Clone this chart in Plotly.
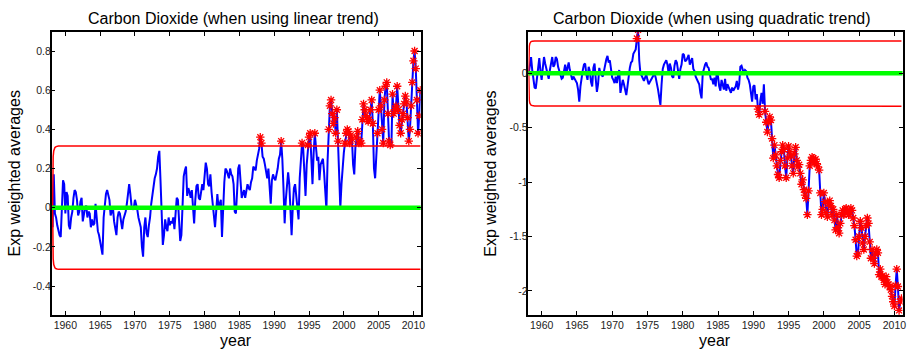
import numpy as np
import plotly.graph_objects as go

# ---------------- data ----------------
# time grid: every two months, 1958+1/6 ... 2011.0 (53 rows of 6 values)
years_grid = 1958 + np.arange(1, 6 * 53 + 1) / 6.0

# EWMA of residuals, linear trend (row = year Y, values at Y+1/6 ... Y+1)
lin_ewma = [
    -0.10, 0.17, -0.03, -0.05, -0.09, -0.12,   # 1958
    -0.14, -0.15, 0.00, 0.14, 0.12, -0.03,     # 1959
    0.08, 0.06, -0.09, -0.11, -0.05, -0.02,    # 1960
    0.05, 0.09, 0.08, 0.04, -0.04, -0.02,      # 1961
    0.03, 0.05, -0.07, -0.03, 0.00, 0.01,      # 1962
    -0.05, -0.02, -0.03, -0.10, -0.06, -0.09,  # 1963
    -0.08, 0.02, -0.04, -0.12, -0.14, -0.18,   # 1964
    -0.22, -0.24, -0.05, 0.03, 0.07, 0.09,     # 1965
    0.07, 0.04, -0.04, -0.02, 0.00, -0.07,     # 1966
    -0.12, -0.14, -0.05, -0.02, -0.03, -0.08,  # 1967
    -0.11, -0.06, -0.04, -0.02, 0.02, 0.06,    # 1968
    0.12, 0.07, 0.01, -0.01, 0.00, 0.04,       # 1969
    0.02, -0.01, -0.05, -0.07, -0.10, -0.20,   # 1970
    -0.25, -0.10, -0.05, -0.13, -0.15, -0.09,  # 1971
    -0.05, 0.02, 0.06, 0.12, 0.15, 0.17,       # 1972
    0.20, 0.26, 0.29, 0.14, -0.02, -0.19,      # 1973
    -0.14, -0.06, -0.10, -0.12, -0.05, -0.09,  # 1974
    -0.07, -0.08, -0.05, -0.11, -0.03, 0.05,   # 1975
    0.04, -0.10, -0.17, -0.14, -0.02, 0.16,    # 1976
    0.19, 0.21, 0.06, 0.10, 0.08, 0.05,        # 1977
    0.09, 0.00, -0.08, 0.04, 0.11, 0.12,       # 1978
    0.05, 0.04, 0.08, 0.12, 0.09, 0.16,        # 1979
    0.23, 0.20, 0.12, 0.11, 0.17, 0.08,        # 1980
    0.03, -0.03, -0.10, -0.02, 0.07, 0.00,     # 1981
    0.02, 0.04, -0.15, 0.02, 0.13, 0.20,       # 1982
    0.19, 0.17, 0.15, 0.20, 0.17, 0.16,        # 1983
    0.12, -0.02, -0.03, 0.08, 0.20, 0.22,      # 1984
    0.15, 0.05, 0.07, 0.09, 0.05, 0.08,        # 1985
    0.12, 0.10, 0.09, 0.13, 0.15, 0.21,        # 1986
    0.20, 0.19, 0.24, 0.27, 0.30, 0.36,        # 1987
    0.33, 0.26, 0.25, 0.22, 0.17, 0.15,        # 1988
    0.20, 0.08, 0.02, 0.14, 0.17, 0.15,        # 1989
    0.14, 0.17, 0.20, 0.25, 0.27, 0.34,        # 1990
    0.25, 0.10, -0.08, 0.04, 0.13, 0.18,       # 1991
    0.12, -0.05, -0.14, 0.00, 0.10, 0.12,      # 1992
    0.05, 0.02, -0.06, 0.15, 0.28, 0.33,       # 1993
    0.30, 0.14, 0.06, 0.22, 0.32, 0.36,        # 1994
    0.38, 0.26, 0.12, 0.28, 0.38, 0.31,        # 1995
    0.24, 0.26, 0.14, 0.22, 0.24, 0.25,        # 1996
    0.18, 0.09, -0.01, 0.24, 0.40, 0.52,       # 1997
    0.55, 0.48, 0.43, 0.46, 0.38, 0.50,        # 1998
    0.34, 0.20, 0.00, 0.12, 0.22, 0.28,        # 1999
    0.33, 0.38, 0.40, 0.39, 0.33, 0.37,        # 2000
    0.35, 0.22, 0.17, 0.31, 0.36, 0.39,        # 2001
    0.33, 0.34, 0.33, 0.45, 0.53, 0.50,        # 2002
    0.47, 0.46, 0.44, 0.45, 0.50, 0.55,        # 2003
    0.43, 0.20, 0.15, 0.25, 0.38, 0.50,        # 2004
    0.60, 0.52, 0.40, 0.33, 0.55, 0.62,        # 2005
    0.64, 0.48, 0.34, 0.32, 0.31, 0.58,        # 2006
    0.48, 0.50, 0.52, 0.62, 0.50, 0.42,        # 2007
    0.38, 0.45, 0.48, 0.53, 0.57, 0.54,        # 2008
    0.46, 0.34, 0.40, 0.52, 0.64, 0.75,        # 2009
    0.80, 0.71, 0.55, 0.38, 0.47, 0.60,        # 2010
]

# EWMA of residuals, quadratic trend
quad_ewma = [
    0.00, 0.06, 0.15, 0.03, -0.08, -0.13,      # 1958
    -0.14, -0.04, 0.08, 0.14, 0.02, -0.06,     # 1959
    0.05, 0.15, 0.09, 0.04, -0.03, -0.05,      # 1960
    0.03, 0.10, 0.15, 0.06, 0.08, 0.15,        # 1961
    0.13, 0.06, 0.03, 0.00, -0.05, -0.04,      # 1962
    0.02, 0.08, 0.00, 0.05, 0.10, 0.03,        # 1963
    -0.02, -0.06, -0.03, -0.05, -0.07, -0.09,  # 1964
    -0.15, -0.26, -0.12, -0.02, 0.03, 0.08,    # 1965
    0.09, -0.01, -0.06, 0.06, 0.02, -0.08,     # 1966
    -0.12, 0.05, 0.09, -0.05, -0.17, -0.10,    # 1967
    0.05, 0.00, -0.02, -0.03, 0.02, 0.10,      # 1968
    0.13, 0.16, 0.10, 0.12, 0.05, -0.04,       # 1969
    -0.06, -0.09, -0.03, -0.09, -0.02, 0.03,   # 1970
    -0.18, -0.10, -0.06, -0.10, -0.16, -0.20,  # 1971
    -0.12, -0.02, 0.05, 0.10, 0.11, 0.18,      # 1972
    0.20, 0.22, 0.32, 0.40, 0.12, 0.00,        # 1973
    -0.02, -0.05, -0.07, -0.04, -0.01, -0.06,  # 1974
    -0.10, -0.08, -0.05, -0.04, -0.02, 0.00,   # 1975
    -0.04, -0.12, -0.15, -0.22, -0.29, -0.10,  # 1976
    0.04, 0.08, 0.10, 0.12, 0.08, 0.00,        # 1977
    0.09, 0.05, -0.03, -0.04, 0.07, 0.12,      # 1978
    0.10, 0.00, -0.05, 0.04, 0.08, 0.18,       # 1979
    0.17, 0.11, 0.12, 0.14, 0.17, 0.08,        # 1980
    0.12, 0.14, 0.04, 0.02, -0.03, -0.06,      # 1981
    -0.08, -0.10, -0.18, -0.23, 0.00, 0.05,    # 1982
    0.08, 0.10, 0.06, 0.05, -0.02, -0.06,      # 1983
    -0.05, -0.10, -0.04, -0.12, 0.02, -0.03,   # 1984
    -0.12, -0.16, -0.06, -0.10, -0.15, -0.05,  # 1985
    -0.16, -0.10, -0.13, -0.15, -0.18, -0.13,  # 1986
    -0.16, -0.14, -0.12, -0.07, -0.15, -0.10,  # 1987
    0.06, 0.07, 0.04, 0.00, 0.03, 0.02,        # 1988
    -0.04, -0.06, -0.10, -0.17, -0.26, -0.12,  # 1989
    -0.11, -0.24, -0.19, -0.33, -0.38, -0.25,  # 1990
    -0.18, -0.28, -0.10, -0.35, -0.45, -0.54,  # 1991
    -0.45, -0.40, -0.43, -0.60, -0.78, -0.66,  # 1992
    -0.75, -0.85, -0.93, -0.96, -0.80, -0.72,  # 1993
    -0.66, -0.70, -0.85, -0.96, -0.78, -0.67,  # 1994
    -0.72, -0.76, -0.85, -0.92, -0.74, -0.68,  # 1995
    -0.80, -0.86, -0.84, -0.92, -1.02, -0.98,  # 1996
    -1.07, -1.12, -1.15, -1.30, -1.08, -0.85,  # 1997
    -0.80, -0.77, -0.78, -0.82, -0.79, -0.83,  # 1998
    -0.86, -0.89, -1.10, -1.30, -1.25, -1.10,  # 1999
    -1.18, -1.28, -1.32, -1.20, -1.17, -1.22,  # 2000
    -1.30, -1.25, -1.35, -1.44, -1.30, -1.42,  # 2001
    -1.47, -1.38, -1.30, -1.26, -1.30, -1.25,  # 2002
    -1.24, -1.28, -1.30, -1.27, -1.24, -1.26,  # 2003
    -1.33, -1.40, -1.53, -1.68, -1.66, -1.50,  # 2004
    -1.36, -1.42, -1.56, -1.62, -1.50, -1.40,  # 2005
    -1.33, -1.38, -1.55, -1.70, -1.62, -1.70,  # 2006
    -1.75, -1.66, -1.62, -1.65, -1.85, -1.80,  # 2007
    -1.87, -1.86, -1.90, -1.94, -1.87, -1.92,  # 2008
    -1.94, -1.96, -1.99, -2.05, -2.10, -2.14,  # 2009
    -1.95, -1.80, -1.96, -2.18, -2.10, -2.07,  # 2010
]

# control limits (start narrow, settle quickly)
limit_years = [1958.17, 1958.2, 1958.25, 1958.33, 1958.42, 1958.5, 1958.67, 1958.83, 1959.0, 2011.0]
lin_ucl = [0.0, 0.20, 0.26, 0.29, 0.30, 0.307, 0.312, 0.314, 0.315, 0.315]
lin_lcl = [0.0, -0.20, -0.26, -0.29, -0.30, -0.307, -0.312, -0.314, -0.315, -0.315]
quad_ucl = [0.0, 0.19, 0.25, 0.275, 0.285, 0.292, 0.296, 0.298, 0.298, 0.298]
quad_lcl = [0.0, -0.19, -0.25, -0.275, -0.285, -0.292, -0.296, -0.298, -0.300, -0.302]

center_years = [1958.0, 2011.5]
center_value = [0.0, 0.0]

x_tick_vals = [1960, 1965, 1970, 1975, 1980, 1985, 1990, 1995, 2000, 2005, 2010]
x_tick_text = ["1960", "1965", "1970", "1975", "1980", "1985", "1990", "1995", "2000", "2005", "2010"]
lin_y_ticks = [-0.4, -0.2, 0, 0.2, 0.4, 0.6, 0.8]
lin_y_text = ["-0.4", "-0.2", "0", "0.2", "0.4", "0.6", "0.8"]
quad_y_ticks = [-2, -1.5, -1, -0.5, 0]
quad_y_text = ["-2", "-1.5", "-1", "-0.5", "0"]

titles = ["Carbon Dioxide (when using linear trend)", "Carbon Dioxide (when using quadratic trend)"]

# ---------------- figure ----------------
W, H = 909, 349
FONT = "Liberation Sans, Arial, sans-serif"

fig = go.Figure()


def add_panel(vals, ucl, lcl, xa, ya):
    v = np.array(vals)
    fig.add_trace(go.Scatter(x=years_grid, y=v, mode="lines", xaxis=xa, yaxis=ya,
                             line=dict(color="#0000ff", width=2), showlegend=False))
    fig.add_trace(go.Scatter(x=limit_years, y=ucl, mode="lines", xaxis=xa, yaxis=ya,
                             line=dict(color="#ff0000", width=1.5), showlegend=False))
    fig.add_trace(go.Scatter(x=limit_years, y=lcl, mode="lines", xaxis=xa, yaxis=ya,
                             line=dict(color="#ff0000", width=1.5), showlegend=False))
    fig.add_trace(go.Scatter(x=center_years, y=center_value, mode="lines", xaxis=xa, yaxis=ya,
                             line=dict(color="#00ff00", width=4.5), showlegend=False))
    out = (v > ucl[-1]) | (v < lcl[-1])
    fig.add_trace(go.Scatter(x=years_grid[out], y=v[out], mode="markers", xaxis=xa, yaxis=ya,
                             marker=dict(symbol="asterisk-open", size=7, color="#ff0000",
                                         line=dict(color="#ff0000", width=1.3)),
                             showlegend=False))


add_panel(lin_ewma, lin_ucl, lin_lcl, "x", "y")
add_panel(quad_ewma, quad_ucl, quad_lcl, "x2", "y2")

ydom = [34 / H, 317 / H]
axis_common = dict(showline=True, linecolor="black", linewidth=1.5, mirror="ticks",
                   ticks="inside", ticklen=4, tickcolor="black", tickwidth=1,
                   showgrid=False, zeroline=False,
                   tickfont=dict(family=FONT, size=10.5, color="#222222"))

fig.update_layout(
    width=W, height=H, margin=dict(l=0, r=0, t=0, b=0),
    paper_bgcolor="white", plot_bgcolor="white",
    xaxis=dict(domain=[52 / W, 423 / W], range=[1958.04, 2011.04], anchor="y",
               tickmode="array", tickvals=x_tick_vals, ticktext=x_tick_text, **axis_common),
    yaxis=dict(domain=ydom, range=[-0.548, 0.897], anchor="x", ticklabelstandoff=-3,
               tickmode="array", tickvals=lin_y_ticks, ticktext=lin_y_text, **axis_common),
    xaxis2=dict(domain=[531.3 / W, 907.5 / W], range=[1958.12, 2011.15], anchor="y2",
                tickmode="array", tickvals=x_tick_vals, ticktext=x_tick_text, **axis_common),
    yaxis2=dict(domain=ydom, range=[-2.222, 0.38], anchor="x2", ticklabelstandoff=-3,
                tickmode="array", tickvals=quad_y_ticks, ticktext=quad_y_text, **axis_common),
)

ann = []
ann.append(dict(text=titles[0], x=234.3 / W, y=1 - 18 / H, xref="paper", yref="paper",
                xanchor="center", yanchor="middle", showarrow=False,
                font=dict(family=FONT, size=16, color="black")))
ann.append(dict(text=titles[1], x=715.8 / W, y=1 - 18 / H, xref="paper", yref="paper",
                xanchor="center", yanchor="middle", showarrow=False,
                font=dict(family=FONT, size=16, color="black")))
for cx in [237.5, 718.8]:
    ann.append(dict(text="year", x=cx / W, y=1 - 340.7 / H, xref="paper", yref="paper",
                    xanchor="center", yanchor="middle", showarrow=False,
                    font=dict(family=FONT, size=16, color="black")))
for cx in [15, 493]:
    ann.append(dict(text="Exp weighted averages", x=cx / W, y=1 - 173.5 / H, xref="paper", yref="paper",
                    xanchor="center", yanchor="middle", showarrow=False, textangle=-90,
                    font=dict(family=FONT, size=16, color="black")))
fig.update_layout(annotations=ann)

fig.write_html("out.html")
